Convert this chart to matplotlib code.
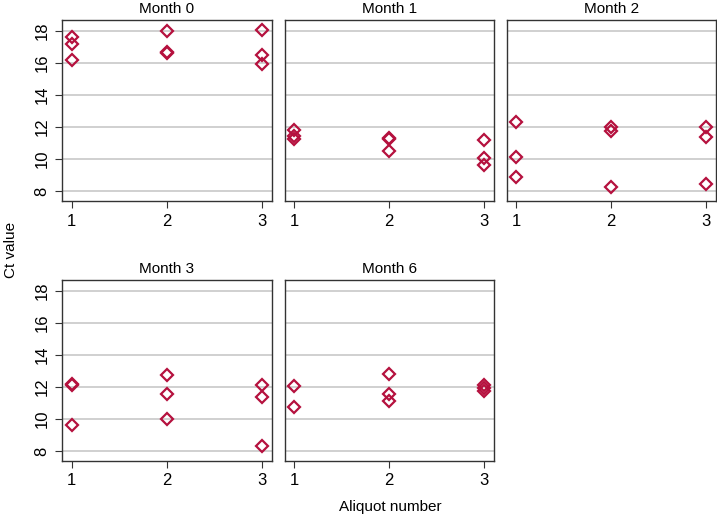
import matplotlib
matplotlib.use("Agg")
import matplotlib.pyplot as plt

plt.rcParams['font.family'] = ['Liberation Sans', 'DejaVu Sans']

# Ct values per month, per aliquot (1, 2, 3)
months = ['Month 0', 'Month 1', 'Month 2', 'Month 3', 'Month 6']
aliquots = [1, 2, 3]

month0 = [[17.6, 17.22, 16.18], [18.03, 16.7, 16.65], [18.07, 16.52, 15.92]]
month1 = [[11.8, 11.45, 11.25], [11.3, 11.25, 10.52], [11.2, 10.06, 9.6]]
month2 = [[12.3, 10.1, 8.9], [12.02, 11.77, 8.23], [11.98, 11.4, 8.44]]
month3 = [[12.17, 12.1, 9.6], [12.78, 11.57, 9.98], [12.1, 11.4, 8.29]]
month6 = [[12.07, 10.77], [12.83, 11.58, 11.13], [12.15, 11.97, 11.78]]
all_data = [month0, month1, month2, month3, month6]

color = '#B5113E'
frame = '#333333'

fig = plt.figure(figsize=(7.17, 5.21), dpi=100)

positions = [
    (0.0865, 0.6142, 0.2929, 0.3474),
    (0.3975, 0.6142, 0.2915, 0.3474),
    (0.7071, 0.6142, 0.2915, 0.3474),
    (0.0865, 0.1152, 0.2929, 0.3474),
    (0.3975, 0.1152, 0.2915, 0.3474),
]

for i, (name, data, pos) in enumerate(zip(months, all_data, positions)):
    ax = fig.add_axes(pos)
    for a, vals in zip(aliquots, data):
        ax.plot([a] * len(vals), vals, linestyle='none', marker='D',
                markersize=6, markerfacecolor='none', markeredgecolor=color,
                markeredgewidth=1.6)
    ax.set_xlim(0.9, 3.11)
    ax.set_ylim(7.38, 18.69)
    ax.set_xticks(aliquots)
    ax.set_yticks(range(8, 19, 2))
    ax.grid(axis='y', color='#c8c8c8', linewidth=1.2)
    ax.set_axisbelow(True)
    ax.set_title(name, fontsize=11, pad=5)
    for s in ax.spines.values():
        s.set_color(frame)
        s.set_linewidth(1.0)
    ax.tick_params(axis='both', direction='out', length=5, color=frame,
                   labelsize=12, pad=4)
    if i in (0, 3):
        for lab in ax.get_yticklabels():
            lab.set_rotation(90)
            lab.set_va('center')
    else:
        ax.tick_params(axis='y', left=False, labelleft=False)

fig.text(0.016, 0.52, 'Ct value', rotation=90, ha='center', va='center',
         fontsize=11)
fig.text(0.545, 0.027, 'Aliquot number', ha='center', va='center',
         fontsize=11)

fig.savefig('out.png', dpi=100)
